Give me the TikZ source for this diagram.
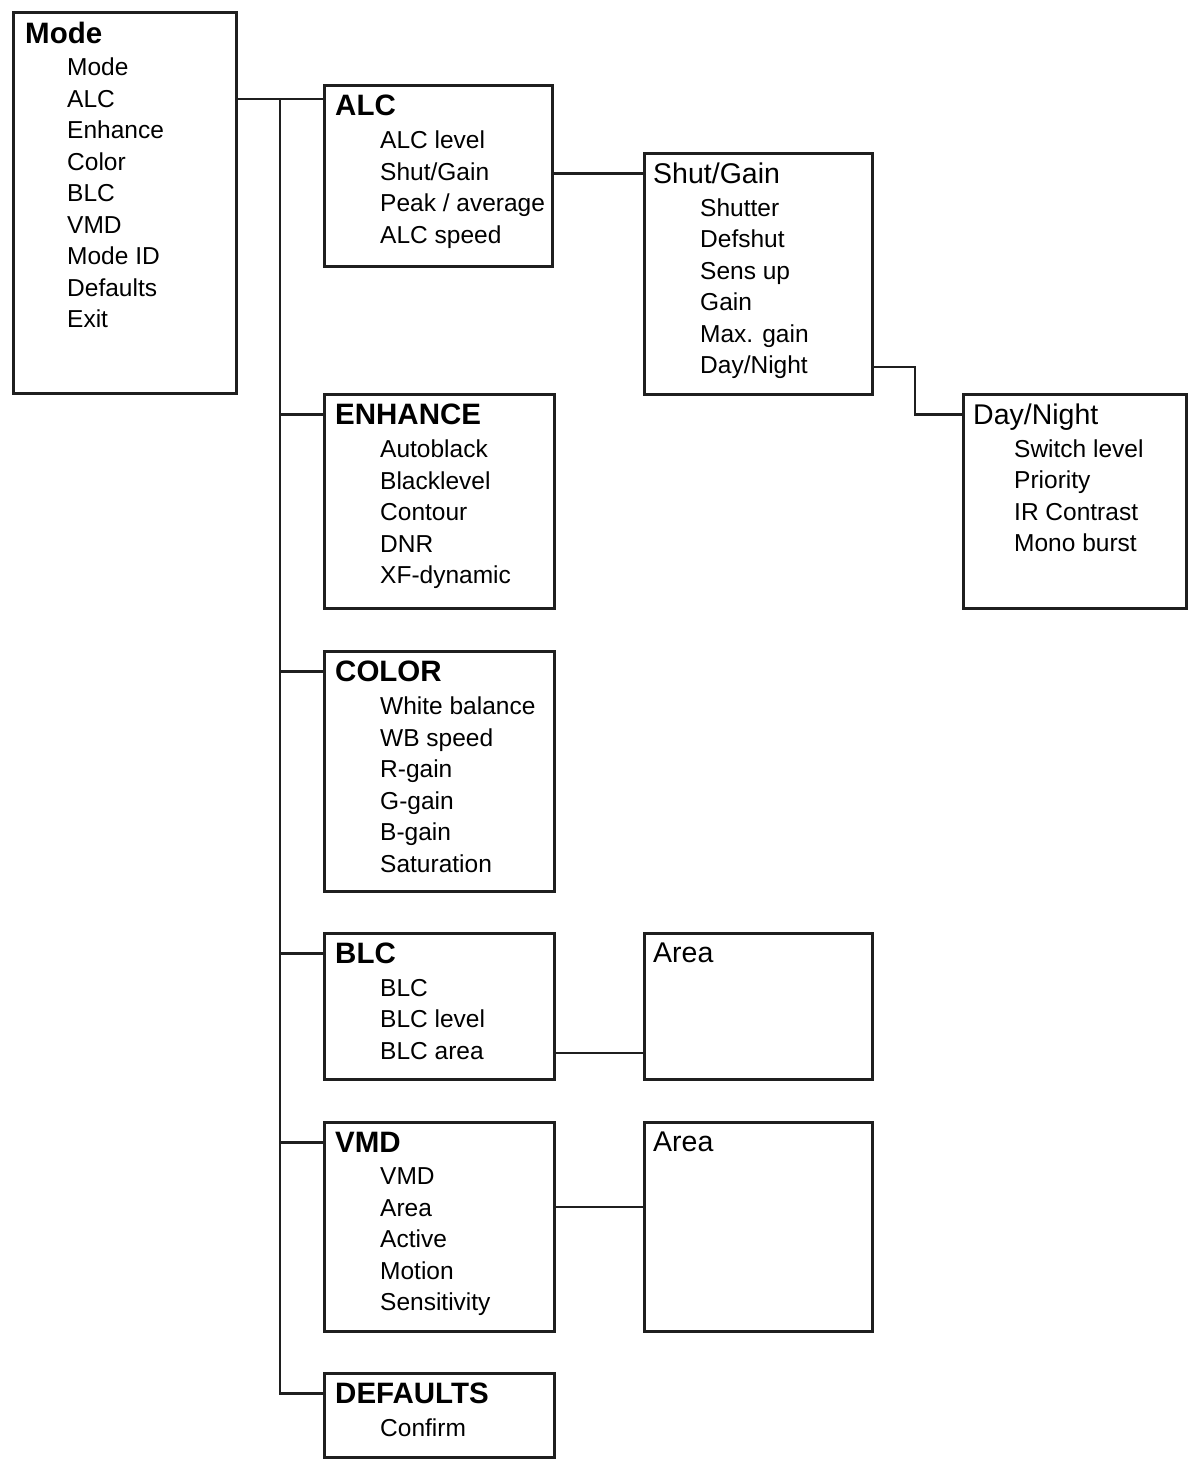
\documentclass[tikz,border=0pt]{standalone}
\usepackage{fontspec}
\setmainfont{Liberation Sans}
\usetikzlibrary{positioning}

\begin{document}
\begin{tikzpicture}[x=1pt,y=-1pt,
    box/.style={draw=black!88,line width=2.8pt,anchor=north west,inner sep=0pt},
    ttl/.style={inner sep=0pt,text depth=0pt,font=\bfseries\fontsize{29.5}{31.5}\selectfont},
    sub/.style={inner sep=0pt,text depth=0pt,font=\fontsize{28.5}{31.5}\selectfont},
    itm/.style={inner sep=0pt,align=left,font=\fontsize{24.5}{31.5}\selectfont},
    link/.style={draw=black!88,line width=2.8pt}]

       \useasboundingbox (0,0) rectangle (1193,1462);

       % boxes
       \node[box,minimum width=223pt,minimum height=381pt] (mode) at (12,11) {};
       \node[box,minimum width=228pt,minimum height=181pt] (alc) at (323,84) {};
       \node[box,minimum width=228pt,minimum height=241pt] (shut) at (643,152) {};
       \node[box,minimum width=223pt,minimum height=214pt] (day) at (962,393) {};
       \node[box,minimum width=230pt,minimum height=214pt] (enh) at (323,393) {};
       \node[box,minimum width=230pt,minimum height=240pt] (col) at (323,650) {};
       \node[box,minimum width=230pt,minimum height=146pt] (blc) at (323,932) {};
       \node[box,minimum width=228pt,minimum height=146pt] (blcarea) at (643,932) {};
       \node[box,minimum width=230pt,minimum height=209pt] (vmd) at (323,1121) {};
       \node[box,minimum width=228pt,minimum height=209pt] (vmdarea) at (643,1121) {};
       \node[box,minimum width=230pt,minimum height=84pt] (defs) at (323,1372) {};

       % titles
       \node[ttl,below right=11pt and 13pt of mode.north west] (modet) {Mode};
       \node[ttl,below right=11pt and 12pt of alc.north west] (alct) {ALC};
       \node[sub,below right=11pt and 10pt of shut.north west] (shutt) {Shut/Gain};
       \node[sub,below right=11pt and 11pt of day.north west] (dayt) {Day/Night};
       \node[ttl,below right=11pt and 12pt of enh.north west] (enht) {ENHANCE};
       \node[ttl,below right=11pt and 12pt of col.north west] (colt) {COLOR};
       \node[ttl,below right=11pt and 12pt of blc.north west] (blct) {BLC};
       \node[sub,below right=11pt and 10pt of blcarea.north west] (blcareat) {Area};
       \node[ttl,below right=11pt and 12pt of vmd.north west] (vmdt) {VMD};
       \node[sub,below right=11pt and 10pt of vmdarea.north west] (vmdareat) {Area};
       \node[ttl,below right=11pt and 12pt of defs.north west] (defst) {DEFAULTS};

       % items
       \node[itm,below right=14pt and 42pt of modet.south west] (modei)
           {Mode\\ALC\\Enhance\\Color\\BLC\\VMD\\Mode ID\\Defaults\\Exit};
       \node[itm,below right=15pt and 45pt of alct.south west] (alci)
           {ALC level\\Shut/Gain\\Peak / average\\ALC speed};
       \node[itm,below right=14pt and 47pt of shutt.south west] (shuti)
           {Shutter\\Defshut\\Sens up\\Gain\\Max. gain\\Day/Night};
       \node[itm,below right=14pt and 41pt of dayt.south west] (dayi)
           {Switch level\\Priority\\IR Contrast\\Mono burst};
       \node[itm,below right=15pt and 45pt of enht.south west] (enhi)
           {Autoblack\\Blacklevel\\Contour\\DNR\\XF-dynamic};
       \node[itm,below right=15pt and 45pt of colt.south west] (coli)
           {White balance\\WB speed\\R-gain\\G-gain\\B-gain\\Saturation};
       \node[itm,below right=15pt and 45pt of blct.south west] (blci)
           {BLC\\BLC level\\BLC area};
       \node[itm,below right=15pt and 45pt of vmdt.south west] (vmdi)
           {VMD\\Area\\Active\\Motion\\Sensitivity};
       \node[itm,below right=15pt and 45pt of defst.south west] (defsi) {Confirm};

       % joints
       \coordinate (trunk) at (280,99);
       \coordinate (dnj) at (915,367);
       \coordinate (blcj) at (598,1053);
       \coordinate (vmdj) at (598,1207);

       \draw[link] (mode.east |- trunk) -- (alc.west |- trunk);
       \draw[link] (trunk) |- (defs.west |- defst);
       \draw[link] (trunk |- enht) -- (enh.west |- enht);
       \draw[link] (trunk |- colt) -- (col.west |- colt);
       \draw[link] (trunk |- blct) -- (blc.west |- blct);
       \draw[link] (trunk |- vmdt) -- (vmd.west |- vmdt);
       \draw[link] (alc.east |- shutt) -- (shut.west |- shutt);
       \draw[link] (shut.east |- dnj) -- (dnj) |- (day.west |- dayt);
       \draw[link] (blc.east |- blcj) -- (blcarea.west |- blcj);
       \draw[link] (vmd.east |- vmdj) -- (vmdarea.west |- vmdj);
     \end{tikzpicture}
\end{document}
